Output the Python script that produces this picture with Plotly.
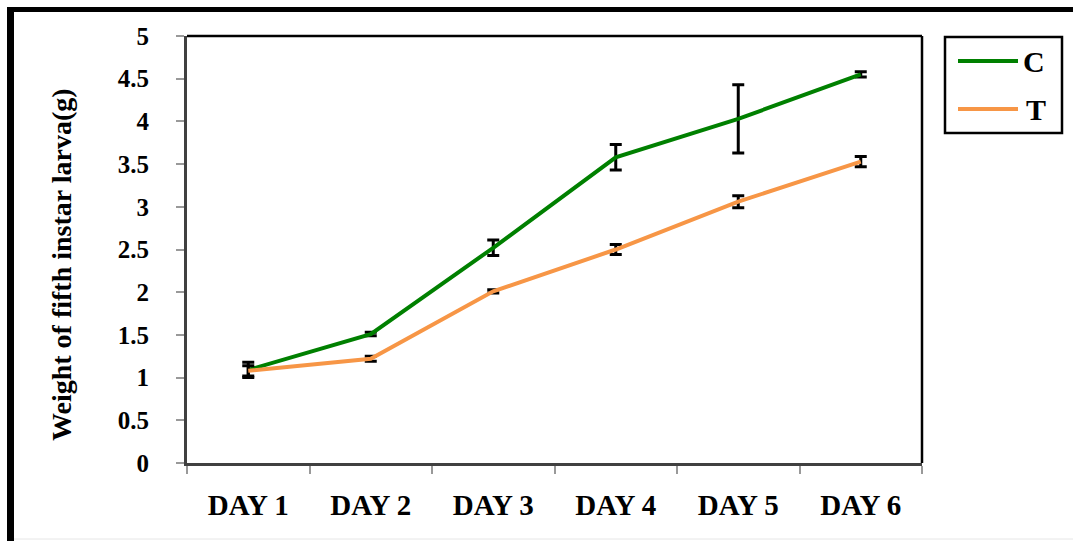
import plotly.graph_objects as go

# Larval weight over six days for control (C) and treated (T) groups
days = ["DAY 1", "DAY 2", "DAY 3", "DAY 4", "DAY 5", "DAY 6"]
weight_c = [1.09, 1.51, 2.52, 3.58, 4.03, 4.55]
err_c = [0.09, 0.02, 0.09, 0.15, 0.40, 0.03]
weight_t = [1.08, 1.22, 2.01, 2.50, 3.06, 3.53]
err_t = [0.06, 0.03, 0.02, 0.06, 0.07, 0.06]
series_names = ["C", "T"]
y_ticks = [0, 0.5, 1, 1.5, 2, 2.5, 3, 3.5, 4, 4.5, 5]

W, H = 1073, 541
L, R, T, B = 187, 151, 36, 78
PW, PH = W - L - R, H - T - B

GREEN = "#008000"
ORANGE = "#F79646"
SERIF = "Liberation Serif"


def px(x):
    return (x - L) / PW


def py(y):
    return (H - B - y) / PH


fig = go.Figure()
for name, vals, errs, col in [
    (series_names[0], weight_c, err_c, GREEN),
    (series_names[1], weight_t, err_t, ORANGE),
]:
    fig.add_trace(go.Scatter(
        x=days, y=vals, name=name, mode="lines",
        line=dict(color=col, width=4),
        error_y=dict(type="data", array=errs, visible=True,
                     color="black", thickness=3, width=6),
        showlegend=False,
    ))

shapes = [
    # frame top and right
    dict(type="line", xref="paper", yref="paper", x0=0, x1=1, y0=1, y1=1,
         line=dict(color="black", width=2.5)),
    dict(type="line", xref="paper", yref="paper", x0=1, x1=1, y0=0, y1=1,
         line=dict(color="black", width=2.5)),
    # outer border (top and left)
    dict(type="line", xref="paper", yref="paper", x0=px(7), x1=px(1073),
         y0=py(9.5), y1=py(9.5), line=dict(color="black", width=5)),
    dict(type="line", xref="paper", yref="paper", x0=px(10.5), x1=px(10.5),
         y0=py(7), y1=py(541), line=dict(color="black", width=7)),
    dict(type="line", xref="paper", yref="paper", x0=px(14), x1=px(1073),
         y0=py(539), y1=py(539), line=dict(color="#e6e6e6", width=1)),
    # legend box
    dict(type="rect", xref="paper", yref="paper", x0=px(945), x1=px(1062),
         y0=py(37), y1=py(133), line=dict(color="black", width=2.5)),
    dict(type="line", xref="paper", yref="paper", x0=px(958), x1=px(1018),
         y0=py(61), y1=py(61), line=dict(color=GREEN, width=4)),
    dict(type="line", xref="paper", yref="paper", x0=px(958), x1=px(1018),
         y0=py(109), y1=py(109), line=dict(color=ORANGE, width=4)),
]

annotations = [
    dict(text="<b>%s</b>" % series_names[0], xref="paper", yref="paper",
         x=px(1021), y=py(62), xanchor="left", yanchor="middle", showarrow=False,
         font=dict(family=SERIF, size=30, color="black")),
    dict(text="<b>%s</b>" % series_names[1], xref="paper", yref="paper",
         x=px(1024), y=py(110), xanchor="left", yanchor="middle", showarrow=False,
         font=dict(family=SERIF, size=30, color="black")),
    dict(text="<b>Weight of fifth instar larva(g)</b>", xref="paper", yref="paper",
         x=px(61), y=py(265), xanchor="center", yanchor="middle", textangle=-90,
         showarrow=False,
         font=dict(family=SERIF, size=28, color="black")),
]

fig.update_layout(
    width=W, height=H,
    margin=dict(l=L, r=R, t=T, b=B),
    paper_bgcolor="white", plot_bgcolor="white",
    shapes=shapes, annotations=annotations,
    xaxis=dict(
        type="category", categoryorder="array", categoryarray=days,
        tickmode="array", tickvals=days, ticktext=["<b>%s</b>" % d for d in days],
        range=[-0.5, 5.5], tickson="boundaries",
        showline=True, linecolor="#404040", linewidth=3,
        ticks="outside", ticklen=8, tickcolor="#999", tickwidth=1.5,
        showgrid=False, zeroline=False, ticklabelstandoff=14,
        tickfont=dict(family=SERIF, size=29, color="black"),
    ),
    yaxis=dict(
        range=[0, 5], tickvals=y_ticks,
        ticktext=["<b>%g</b>" % v for v in y_ticks],
        showline=True, linecolor="#404040", linewidth=3,
        ticks="outside", ticklen=8, tickcolor="#999", tickwidth=1.5,
        showgrid=False, zeroline=False, ticklabelstandoff=22,
        tickfont=dict(family=SERIF, size=25, color="black"),
    ),
)

fig.write_html("out.html")
